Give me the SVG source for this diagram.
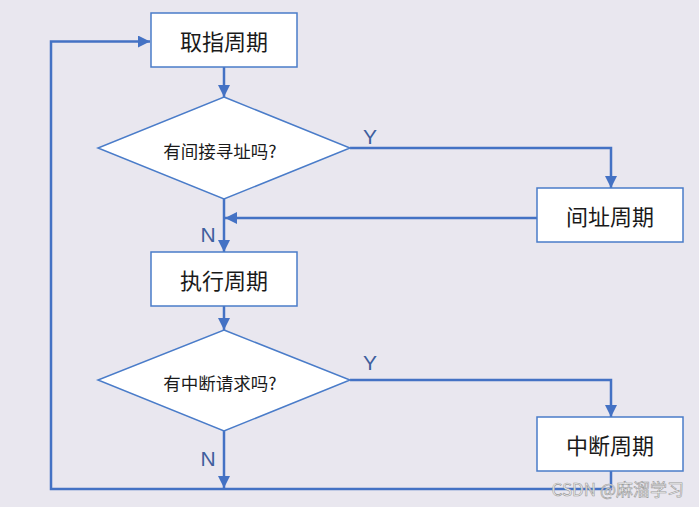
<svg xmlns="http://www.w3.org/2000/svg" width="699" height="507" viewBox="0 0 699 507">
<style>
.bg{fill:#e9e7ef}
.box{fill:#ffffff;stroke:#4a7cc9;stroke-width:1.5}
.dia{fill:#ffffff;stroke:#4a7cc9;stroke-width:1.5}
.t{font-family:"Noto Sans CJK SC","Liberation Sans",sans-serif;fill:#1a1a1a;text-anchor:middle;dominant-baseline:central}
.big{font-size:22px}
.small{font-size:17.5px}
.lbl{font-family:"Liberation Sans","Noto Sans",sans-serif;font-size:21px;fill:#3f5f9e;text-anchor:middle}
.ln{fill:none;stroke:#4472c4;stroke-width:2.5}
.ah{marker-end:url(#arr)}
.wm{font-family:"Noto Sans CJK SC","Liberation Sans",sans-serif;font-size:17px;fill:#f2f2f2;stroke:#9a9a9a;stroke-width:0.6;text-anchor:end}
</style>
<defs>
<marker id="arr" markerUnits="userSpaceOnUse" markerWidth="12" markerHeight="12" viewBox="0 0 10 10" refX="10" refY="5" orient="auto">
<path d="M0,0 L10,5 L0,10 Z" fill="#4472c4"/>
</marker>
</defs>
<rect class="bg" x="0" y="0" width="699" height="507"/>
<g id="connectors">
<path class="ln ah" d="M224,67 V97"/>
<path class="ln ah" d="M350,148 H611 V188"/>
<path class="ln ah" d="M537,218 H225"/>
<path class="ln ah" d="M224,199 V252"/>
<path class="ln ah" d="M224,306 V330"/>
<path class="ln ah" d="M350,380 H611 V417"/>
<path class="ln ah" d="M224,431 V488"/>
<path class="ln ah" d="M611,471 V489 H51 V41.5 H150"/>
</g>
<g id="labels">
<text class="lbl" x="370" y="144">Y</text>
<text class="lbl" x="370" y="370">Y</text>
<text class="lbl" x="208" y="242">N</text>
<text class="lbl" x="208" y="466">N</text>
</g>
<g id="fetch">
<rect class="box" x="151" y="13" width="146" height="54"/>
<text class="t big" x="224" y="40">取指周期</text>
</g>
<g id="q-indirect">
<polygon class="dia" points="224,97 350,148 224,199 98,148"/>
<text class="t small" x="220" y="150">有间接寻址吗?</text>
</g>
<g id="indirect">
<rect class="box" x="537" y="188" width="146" height="54"/>
<text class="t big" x="610" y="215">间址周期</text>
</g>
<g id="execute">
<rect class="box" x="151" y="252" width="146" height="54"/>
<text class="t big" x="224" y="279">执行周期</text>
</g>
<g id="q-interrupt">
<polygon class="dia" points="224,330 350,380 224,431 98,380"/>
<text class="t small" x="220" y="382">有中断请求吗?</text>
</g>
<g id="interrupt">
<rect class="box" x="537" y="417" width="146" height="54"/>
<text class="t big" x="610" y="444">中断周期</text>
</g>
<text class="wm" x="684" y="496">CSDN @麻溜学习</text>
</svg>
